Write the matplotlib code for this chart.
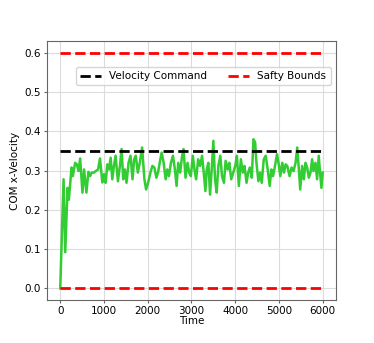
import numpy as np
import matplotlib
matplotlib.use('Agg')
import matplotlib.pyplot as plt

# values
time = [0, 76, 114, 167, 197, 258, 288, 341, 379, 417, 455, 508, 545, 598, 644, 682,
        720, 773, 811, 864, 909, 962, 1000, 1038, 1076, 1114, 1152, 1189, 1227, 1265,
        1318, 1364, 1402, 1439, 1477, 1515, 1561, 1606, 1652, 1689, 1727, 1773, 1818,
        1871, 1924, 1962, 2008, 2061, 2106, 2152, 2197, 2235, 2273, 2318, 2364, 2409,
        2447, 2485, 2530, 2576, 2621, 2659, 2697, 2742, 2780, 2818, 2864, 2909, 2947,
        2985, 3030, 3068, 3106, 3152, 3197, 3242, 3280, 3318, 3348, 3386, 3424, 3462,
        3500, 3538, 3576, 3614, 3659, 3697, 3742, 3780, 3826, 3864, 3909, 3955, 4000,
        4038, 4083, 4129, 4174, 4212, 4258, 4296, 4333, 4379, 4417, 4455, 4485, 4530,
        4568, 4606, 4652, 4697, 4742, 4788, 4826, 4864, 4909, 4955, 5000, 5030, 5076,
        5114, 5152, 5189, 5242, 5288, 5333, 5379, 5417, 5455, 5485, 5530, 5568, 5606,
        5644, 5682, 5720, 5758, 5788, 5833, 5871, 5909, 5939, 5970, 6000]
com_vel = [0.0, 0.278, 0.092, 0.256, 0.226, 0.308, 0.286, 0.320, 0.316, 0.299, 0.331,
           0.244, 0.303, 0.244, 0.297, 0.286, 0.295, 0.295, 0.299, 0.303, 0.331, 0.270,
           0.291, 0.269, 0.316, 0.303, 0.333, 0.278, 0.312, 0.338, 0.273, 0.312, 0.355,
           0.278, 0.303, 0.269, 0.320, 0.338, 0.278, 0.329, 0.338, 0.295, 0.320, 0.359,
           0.278, 0.252, 0.269, 0.295, 0.312, 0.308, 0.282, 0.295, 0.320, 0.346, 0.320,
           0.278, 0.303, 0.286, 0.320, 0.338, 0.303, 0.261, 0.320, 0.295, 0.333, 0.355,
           0.282, 0.320, 0.295, 0.286, 0.338, 0.303, 0.278, 0.329, 0.312, 0.338, 0.295,
           0.248, 0.303, 0.320, 0.239, 0.303, 0.376, 0.278, 0.244, 0.312, 0.338, 0.286,
           0.269, 0.325, 0.303, 0.320, 0.278, 0.295, 0.312, 0.338, 0.261, 0.329, 0.295,
           0.312, 0.269, 0.295, 0.308, 0.282, 0.380, 0.372, 0.320, 0.273, 0.295, 0.269,
           0.329, 0.338, 0.303, 0.261, 0.303, 0.286, 0.312, 0.342, 0.312, 0.286, 0.320,
           0.295, 0.316, 0.312, 0.286, 0.308, 0.299, 0.320, 0.359, 0.303, 0.252, 0.312,
           0.278, 0.320, 0.308, 0.282, 0.295, 0.329, 0.299, 0.320, 0.278, 0.338, 0.295,
           0.256, 0.295]
vel_command = 0.35
safety_bounds = [0.0, 0.6]
t_range = [0, 6000]

plt.rcParams['font.size'] = 7.5

fig = plt.figure(figsize=(3.74, 3.43), dpi=100)
ax = fig.add_axes([0.126, 0.125, 0.772, 0.755])

ax.plot(time, com_vel, color='#32cd32', lw=1.8)
ax.plot(t_range, [vel_command, vel_command], 'k--', lw=2, label='Velocity Command')
ax.plot(t_range, [safety_bounds[1], safety_bounds[1]], 'r--', lw=2, label='Safty Bounds')
ax.plot(t_range, [safety_bounds[0], safety_bounds[0]], 'r--', lw=2)

ax.grid(True, color='#dcdcdc', lw=0.8)
ax.set_axisbelow(True)
for s in ax.spines.values():
    s.set_color('#666666')
ax.tick_params(length=2.5, pad=2, color='#666666')
ax.set_xticks([0, 1000, 2000, 3000, 4000, 5000, 6000])
ax.set_yticks([0.0, 0.1, 0.2, 0.3, 0.4, 0.5, 0.6])
ax.set_xlabel('Time', labelpad=0)
ax.set_ylabel('COM x-Velocity', labelpad=3)
ax.legend(ncol=2, loc='upper right', bbox_to_anchor=(1.0, 0.92), fontsize=7.5)

plt.savefig('out.png', dpi=100)
